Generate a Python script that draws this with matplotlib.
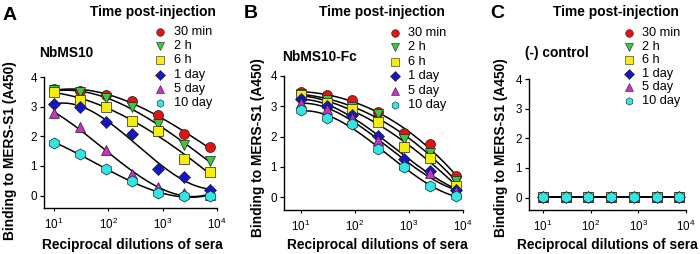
import numpy as np
import matplotlib
matplotlib.use('Agg')
import matplotlib.pyplot as plt
from matplotlib.lines import Line2D
from matplotlib.ticker import FixedLocator, FixedFormatter

plt.rcParams['font.family'] = ['Liberation Sans', 'DejaVu Sans']
plt.rcParams['mathtext.default'] = 'regular'

# ---------------- data ----------------
dilutions = [10, 30, 90, 270, 810, 2430, 7290]
series_labels = ['30 min', '2 h', '6 h', '1 day', '5 day', '10 day']
series_colors = ['#e01414', '#3cc83c', '#f5ee0a', '#1414c8', '#c832c8', '#32e6e6']
series_markers = ['o', 'v', 's', 'D', '^', 'h']
marker_sizes = [7.2, 7.6, 6.6, 6.2, 7.4, 8.0]

nbms10_30min = [3.58, 3.53, 3.40, 3.20, 2.72, 2.07, 1.64]
nbms10_2h = [3.55, 3.48, 3.28, 2.99, 2.41, 1.72, 1.17]
nbms10_6h = [3.51, 3.21, 2.99, 2.53, 2.18, 1.22, 0.80]
nbms10_1day = [3.10, 3.00, 2.49, 2.06, 0.89, 0.63, 0.20]
nbms10_5day = [2.78, 2.30, 1.54, 0.72, 0.29, 0.09, 0.01]
nbms10_10day = [1.79, 1.40, 0.89, 0.48, 0.08, 0.00, 0.00]

fc_30min = [3.48, 3.38, 3.20, 2.81, 2.13, 1.75, 0.70]
fc_2h = [3.42, 3.20, 2.98, 2.74, 1.91, 1.45, 0.55]
fc_6h = [3.38, 3.10, 2.92, 2.49, 1.65, 1.29, 0.38]
fc_1day = [3.24, 3.01, 2.73, 2.02, 1.27, 0.88, 0.25]
fc_5day = [3.10, 2.92, 2.60, 1.89, 1.10, 0.81, 0.20]
fc_10day = [2.88, 2.60, 2.41, 1.59, 1.01, 0.38, 0.04]

ctrl_30min = [0.02, 0.02, 0.02, 0.02, 0.02, 0.02, 0.02]
ctrl_2h = [0.02, 0.02, 0.02, 0.02, 0.02, 0.02, 0.02]
ctrl_6h = [0.02, 0.02, 0.02, 0.02, 0.02, 0.02, 0.02]
ctrl_1day = [0.02, 0.02, 0.02, 0.02, 0.02, 0.02, 0.02]
ctrl_5day = [0.02, 0.02, 0.02, 0.02, 0.02, 0.02, 0.02]
ctrl_10day = [0.02, 0.02, 0.02, 0.02, 0.02, 0.02, 0.02]

y_ticks = [0, 1, 2, 3, 4]
x_ticks = [10, 100, 1000, 10000]
x_tick_labels = [r'$10^{1}$', r'$10^{2}$', r'$10^{3}$', r'$10^{4}$']

W, H = 700, 254
fig = plt.figure(figsize=(W / 100, H / 100), dpi=100)

LAB = 9.9      # bold label size
TICK = 8.4     # tick label size
LEG = 9.2      # legend text size
LETTER = 14


def px_axes(left, right, top, bottom):
    return fig.add_axes([left / W, 1 - bottom / H, (right - left) / W, (bottom - top) / H])


def ftext(x, y, s, **kw):
    fig.text(x / W, 1 - y / H, s, **kw)


def draw_panel(ax, data, xmin_log, fit=True):
    xs = np.array(dilutions, dtype=float)
    lx = np.log10(xs)
    xf = np.logspace(lx[0], lx[-1], 300)
    for vals in data:
        v = np.array(vals)
        if fit:
            coef = np.polyfit(lx, v, 3)
            yf = np.polyval(coef, np.log10(xf))
        else:
            yf = np.full_like(xf, v.mean())
        ax.plot(xf, yf, color='black', lw=1.1, zorder=2)
    for vals, c, m, ms in zip(data, series_colors, series_markers, marker_sizes):
        ax.plot(dilutions, vals, linestyle='none', marker=m, ms=ms, mfc=c,
                mec='#202020', mew=0.5, zorder=3, clip_on=False)
    ax.set_xscale('log')
    ax.set_xlim(10 ** xmin_log, 10 ** 4)
    ax.set_ylim(-0.42, 4.0)
    ax.xaxis.set_major_locator(FixedLocator(x_ticks))
    ax.xaxis.set_major_formatter(FixedFormatter(x_tick_labels))
    ax.xaxis.set_minor_locator(FixedLocator([]))
    ax.set_yticks(y_ticks)
    for s in ['top', 'right']:
        ax.spines[s].set_visible(False)
    for s in ['left', 'bottom']:
        ax.spines[s].set_linewidth(1.0)
    ax.tick_params(axis='y', direction='out', length=3, width=0.9, pad=2, labelsize=TICK)
    ax.tick_params(axis='x', direction='out', length=2.5, width=0.8, pad=3.5, labelsize=TICK)
    ax.patch.set_alpha(0)


def draw_legend(mx, tx, y0, step):
    for i, (lab, c, m) in enumerate(zip(series_labels, series_colors, series_markers)):
        y = y0 + i * step
        fig.add_artist(Line2D([mx / W], [1 - y / H], marker=m, ms=5.5, mfc=c,
                              mec='#202020', mew=0.4, linestyle='none',
                              transform=fig.transFigure))
        ftext(tx, y, lab, ha='left', va='center', fontsize=LEG)


bold = dict(fontweight='bold')
XLAB_Y = 245

# Panel A
axA = px_axes(44, 217, 77, 208)
draw_panel(axA, [nbms10_30min, nbms10_2h, nbms10_6h, nbms10_1day, nbms10_5day, nbms10_10day], 0.816)
ftext(10, 15, 'A', ha='center', va='center', fontsize=LETTER, **bold)
ftext(152.5, 12, 'Time post-injection', ha='center', va='center', fontsize=LAB, **bold)
ftext(39, 53, 'NbMS10', ha='left', va='center', fontsize=LAB, **bold)
ftext(10, 151, 'Binding to MERS-S1 (A450)', ha='center', va='center', rotation=90, fontsize=LAB, **bold)
ftext(132, XLAB_Y, 'Reciprocal dilutions of sera', ha='center', va='center', fontsize=LAB, **bold)
draw_legend(160, 174, 32, 14.2)

# Panel B
axB = px_axes(284, 463, 76, 210)
draw_panel(axB, [fc_30min, fc_2h, fc_6h, fc_1day, fc_5day, fc_10day], 0.69)
ftext(251, 14, 'B', ha='center', va='center', fontsize=LETTER, **bold)
ftext(381.5, 12, 'Time post-injection', ha='center', va='center', fontsize=LAB, **bold)
ftext(282, 57, 'NbMS10-Fc', ha='left', va='center', fontsize=LAB, **bold)
ftext(258, 148, 'Binding to MERS-S1 (A450)', ha='center', va='center', rotation=90, fontsize=LAB, **bold)
ftext(377, XLAB_Y, 'Reciprocal dilutions of sera', ha='center', va='center', fontsize=LAB, **bold)
draw_legend(395, 408, 33, 14.4)

# Panel C
axC = px_axes(529, 686, 79, 210)
draw_panel(axC, [ctrl_30min, ctrl_2h, ctrl_6h, ctrl_1day, ctrl_5day, ctrl_10day], 0.707, fit=False)
ftext(497, 14, 'C', ha='center', va='center', fontsize=LETTER, **bold)
ftext(615.5, 12, 'Time post-injection', ha='center', va='center', fontsize=LAB, **bold)
ftext(525, 53, '(-) control', ha='left', va='center', fontsize=LAB, **bold)
ftext(501, 148, 'Binding to MERS-S1 (A450)', ha='center', va='center', rotation=90, fontsize=LAB, **bold)
ftext(607, XLAB_Y, 'Reciprocal dilutions of sera', ha='center', va='center', fontsize=LAB, **bold)
draw_legend(629, 642, 33, 13.6)

fig.savefig('out.png', dpi=100)
